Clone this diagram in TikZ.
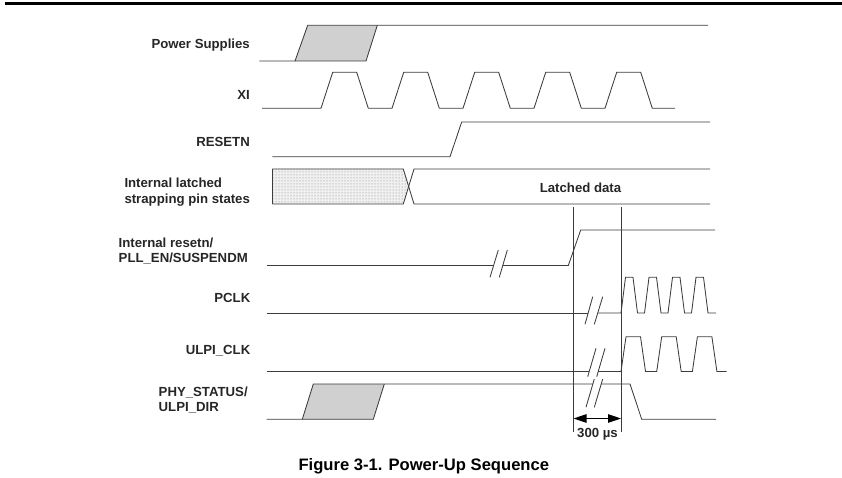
\documentclass[tikz,border=0pt]{standalone}
\usepackage{fontspec}
\setmainfont{Liberation Sans}
\usetikzlibrary{arrows.meta,patterns}
\definecolor{psgray}{RGB}{208,208,208}
\definecolor{wave}{RGB}{60,60,60}
\begin{document}
\begin{tikzpicture}[x=1pt,y=-1pt,
  wv/.style={draw=wave,line width=0.85pt,line join=miter},
  lbl/.style={font=\fontsize{13.2}{15.5}\selectfont\bfseries,inner sep=0pt,text=black!85},
  lblr/.style={lbl,anchor=base east},
  lbll/.style={lbl,anchor=base west},
  brk/.style={draw=wave,line width=0.85pt},
  vline/.style={draw=wave,line width=0.85pt}]
\useasboundingbox (0,0) rectangle (842,478);
% top rule
\draw[line width=2.6pt,black] (5,3.3) -- (842,3.3);

% labels
\node[lblr] (lps) at (250,48.7) {Power Supplies};
\node[lblr] (lxi) at (250,100) {XI};
\node[lblr] (lrst) at (250,146.3) {RESETN};
\node[lbll] (llat1) at (124.3,187.3) {Internal latched};
\node[lbll] (llat2) at (124.3,203.3) {strapping pin states};
\node[lbll] (lir1) at (118.5,247.3) {Internal resetn/};
\node[lbll] (lir2) at (118.5,262.5) {PLL\_EN/SUSPENDM};
\node[lblr] (lpclk) at (250.5,302.7) {PCLK};
\node[lblr] (lulpi) at (250.5,354) {ULPI\_CLK};
\node[lbll] (lphy1) at (158.5,396.7) {PHY\_STATUS/};
\node[lbll] (lphy2) at (158.5,411.7) {ULPI\_DIR};

% Power supplies
\fill[psgray] (295,61) -- (307.7,25.3) -- (377.3,25.3) -- (366,61) -- cycle;
\draw[wv] (259.3,61) -- (295,61) -- (307.7,25.3) -- (708,25.3);
\draw[wv] (295,61) -- (366,61) -- (377.3,25.3);

% XI
\draw[wv] (262,108.3)
  \foreach \r in {321,392,463,534,605} {
    -- (\r,108.3) -- ({\r+11.7},72.3) -- ({\r+35.7},72.3) -- ({\r+47.3},108.3)
  } -- (675,108.3);

% RESETN
\draw[wv] (272.3,156.7) -- (450,156.7) -- (461.7,122) -- (710,122);

% Latched strapping states
\fill[black!6] (272.3,169) -- (403.3,169) -- (408.7,186.5) -- (403.3,204) -- (272.3,204) -- cycle;
\fill[pattern=dots,pattern color=black!50] (272.3,169) -- (403.3,169) -- (408.7,186.5) -- (403.3,204) -- (272.3,204) -- cycle;
\draw[wv] (272.3,169) -- (403.3,169) -- (414,204) -- (710,204);
\draw[wv] (272.3,204) -- (403.3,204) -- (414,169) -- (710,169);
\draw[wv] (272.3,169) -- (272.3,204);
\node[lbl,anchor=base] (ldata) at (580.5,192.7) {Latched data};

% vertical timing lines
\coordinate (v1t) at (573.5,207);
\coordinate (v1b) at (573.5,432);
\coordinate (v2t) at (621,207);
\coordinate (v2b) at (621,432);
\draw[vline] (v1t) -- (v1b);
\draw[vline] (v2t) -- (v2b);

% Internal resetn
\draw[wv] (266.7,265.5) -- (493.6,265.5);
\draw[brk] (490,277.3) -- (498.3,250);
\draw[brk] (499.3,277.3) -- (507.3,250);
\draw[wv] (502.8,265.5) -- (568.3,265.5) -- (580.7,230) -- (715,230);

% PCLK
\draw[wv] (266.7,313) -- (588.2,313);
\draw[brk] (585,324.3) -- (592.7,296.7);
\draw[brk] (594.3,324.3) -- (602.7,296.7);
\draw[wv] (597.7,313)
  \foreach \r in {621,644.5,668,691.5} {
    -- (\r,313) -- ({\r+4.5},277.3) -- ({\r+12},277.3) -- ({\r+16.5},313)
  } -- (716,313);

% ULPI_CLK
\draw[wv] (266.7,371.5) -- (589.2,371.5);
\draw[brk] (587.7,376.7) -- (596,348.3);
\draw[brk] (596.7,376.7) -- (605,348.3);
\draw[wv] (598.2,371.5)
  \foreach \r in {621,656.7,692.4} {
    -- (\r,371.5) -- ({\r+5},336.7) -- ({\r+19.5},336.7) -- ({\r+24.5},371.5)
  } -- (726.7,371.5);

% PHY_STATUS / ULPI_DIR
\fill[psgray] (302.3,419.3) -- (313.3,384) -- (384.3,384) -- (373.3,419.3) -- cycle;
\draw[wv] (266.7,419.3) -- (302.3,419.3) -- (313.3,384) -- (592.8,384);
\draw[wv] (302.3,419.3) -- (373.3,419.3) -- (384.3,384);
\draw[brk] (586,407.3) -- (594.3,379);
\draw[brk] (594.3,407.3) -- (602.7,379);
\draw[wv] (601.2,384) -- (630,384) -- (641.7,419.3) -- (716,419.3);

% 300 us dimension
\coordinate (a1) at (573.5,418.5);
\coordinate (a2) at (621,418.5);
\draw[black,line width=1.1pt,{Triangle[length=13pt,width=8.5pt]}-{Triangle[length=13pt,width=8.5pt]}] (a1) -- (a2);
\node[lbl,anchor=base] (l300) at (597.5,437) {300 µs};

% caption
\node[anchor=base west,inner sep=0pt,font=\fontsize{16.6}{19}\selectfont\bfseries] (cap) at (298.3,470.7) {Figure 3-1. Power-Up Sequence};
\end{tikzpicture}
\end{document}
